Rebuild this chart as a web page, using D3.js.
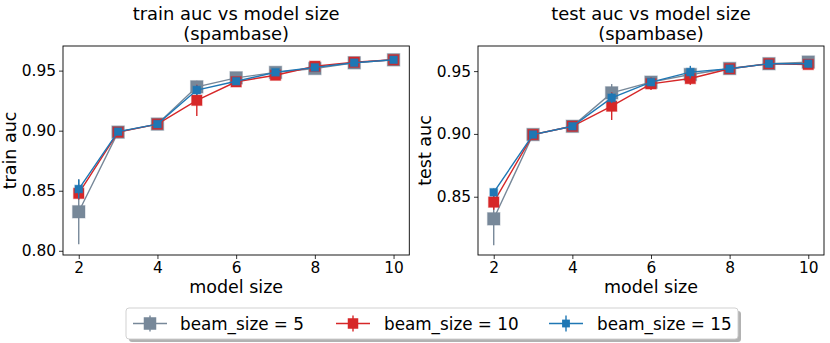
<!DOCTYPE html>
<html><head><meta charset="utf-8">
<script src="https://cdn.jsdelivr.net/npm/d3@7/dist/d3.min.js"></script>
<style>body{margin:0;background:#fff}svg{display:block;font-family:"DejaVu Sans",sans-serif}</style>
</head><body>
<svg id="c" width="830" height="343"></svg>
<script>
const modelSizes = [2,3,4,5,6,7,8,9,10];
const seriesNames = ["beam_size = 5","beam_size = 10","beam_size = 15"];
const seriesColors = ["#778899","#d62728","#1f77b4"];
const markerSizes = [12.5,10.5,7.8];
// train auc
const train5  = [0.8325,0.8988,0.9055,0.9365,0.9440,0.9485,0.9518,0.9565,0.9590];
const train10 = [0.8478,0.8988,0.9055,0.9253,0.9407,0.9462,0.9536,0.9570,0.9590];
const train15 = [0.8514,0.8992,0.9055,0.9338,0.9412,0.9486,0.9527,0.9566,0.9590];
const trainErr5  = [0.027,0.001,0.001,0.005,0.002,0.002,0.001,0.001,0.001];
const trainErr10 = [0.005,0.001,0.001,0.013,0.003,0.002,0.002,0.001,0.001];
const trainErr15 = [0.008,0.001,0.001,0.004,0.002,0.002,0.001,0.001,0.001];
// test auc
const test5  = [0.8324,0.8995,0.9061,0.9327,0.9412,0.9473,0.9521,0.9559,0.9572];
const test10 = [0.8457,0.8995,0.9061,0.9221,0.9399,0.9441,0.9519,0.9559,0.9553];
const test15 = [0.8535,0.8995,0.9061,0.9287,0.9412,0.9492,0.9519,0.9559,0.9559];
const testErr5  = [0.021,0.001,0.001,0.007,0.004,0.003,0.003,0.004,0.004];
const testErr10 = [0.006,0.001,0.001,0.011,0.005,0.005,0.004,0.003,0.003];
const testErr15 = [0.003,0.001,0.001,0.004,0.003,0.005,0.003,0.003,0.003];
const xTicks = [2,4,6,8,10];
const yTicks = [0.80,0.85,0.90,0.95];

const svg = d3.select("#c");
const panels = [
  {title:["train auc vs model size","(spambase)"], ylabel:"train auc", left:63, right:409.3, top:46, bottom:255,
   yDomain:[0.7965,0.9705], vals:[train5,train10,train15], errs:[trainErr5,trainErr10,trainErr15]},
  {title:["test auc vs model size","(spambase)"], ylabel:"test auc", left:478, right:824, top:46, bottom:255,
   yDomain:[0.8036,0.9700], vals:[test5,test10,test15], errs:[testErr5,testErr10,testErr15]}
];

panels.forEach(p=>{
  const x = d3.scaleLinear().domain([1.6,10.4]).range([p.left,p.right]);
  const y = d3.scaleLinear().domain(p.yDomain).range([p.bottom,p.top]);
  const g = svg.append("g");
  const clipId = "clip"+p.left;
  svg.append("clipPath").attr("id",clipId).append("rect")
    .attr("x",p.left).attr("y",p.top).attr("width",p.right-p.left).attr("height",p.bottom-p.top);
  const plot = g.append("g").attr("clip-path",`url(#${clipId})`);
  p.vals.forEach((vals,si)=>{
    const col = seriesColors[si];
    const sg = plot.append("g");
    sg.selectAll("line.err").data(modelSizes).join("line")
      .attr("x1",d=>x(d)).attr("x2",d=>x(d))
      .attr("y1",(d,i)=>y(vals[i]-p.errs[si][i])).attr("y2",(d,i)=>y(vals[i]+p.errs[si][i]))
      .attr("stroke",col).attr("stroke-width",1.4);
    sg.append("path").datum(modelSizes)
      .attr("d",d3.line().x(d=>x(d)).y((d,i)=>y(vals[i])))
      .attr("fill","none").attr("stroke",col).attr("stroke-width",1.4);
    const s = markerSizes[si];
    sg.selectAll("rect.m").data(modelSizes).join("rect")
      .attr("x",d=>x(d)-s/2).attr("y",(d,i)=>y(vals[i])-s/2)
      .attr("width",s).attr("height",s).attr("fill",col)
      .attr("stroke",col).attr("stroke-opacity",0.35).attr("stroke-width",1.2);
  });
  // axes
  const yt = yTicks.filter(v=>v>=p.yDomain[0] && v<=p.yDomain[1]);
  const xa = g.append("g").attr("transform",`translate(0,${p.bottom})`)
    .call(d3.axisBottom(x).tickValues(xTicks).tickFormat(d3.format("d")).tickSize(4).tickPadding(3));
  const ya = g.append("g").attr("transform",`translate(${p.left},0)`)
    .call(d3.axisLeft(y).tickValues(yt).tickFormat(d3.format(".2f")).tickSize(4).tickPadding(3));
  [xa,ya].forEach(a=>{
    a.select(".domain").remove();
    a.attr("font-size",15.4).attr("font-family","DejaVu Sans");
    a.selectAll("text").attr("fill","#000");
    a.selectAll("line").attr("stroke","#000").attr("stroke-width",0.8);
  });
  g.append("rect").attr("x",p.left).attr("y",p.top).attr("width",p.right-p.left).attr("height",p.bottom-p.top)
    .attr("fill","none").attr("stroke","#000").attr("stroke-width",0.9);
  const cx = (p.left+p.right)/2;
  g.append("text").attr("x",cx).attr("y",20).attr("text-anchor","middle").attr("font-size",17.9).text(p.title[0]);
  g.append("text").attr("x",cx).attr("y",40).attr("text-anchor","middle").attr("font-size",17.9).text(p.title[1]);
  g.append("text").attr("x",cx).attr("y",293).attr("text-anchor","middle").attr("font-size",17.5).text("model size");
  const cy = (p.top+p.bottom)/2;
  g.append("text").attr("transform",`translate(${p.left-47},${cy}) rotate(-90)`).attr("text-anchor","middle")
    .attr("font-size",17.5).text(p.ylabel);
});

// legend
const L = {x:126, y:308, w:612, h:31};
svg.append("rect").attr("x",L.x+3).attr("y",L.y+3).attr("width",L.w).attr("height",L.h).attr("rx",3)
  .attr("fill","#000").attr("fill-opacity",0.3);
svg.append("rect").attr("x",L.x).attr("y",L.y).attr("width",L.w).attr("height",L.h).attr("rx",3)
  .attr("fill","#fff").attr("stroke","#ccc").attr("stroke-width",0.9);
const handleX = [150,353,566];
const textX = [180,384,597];
seriesNames.forEach((n,i)=>{
  const cy = L.y+L.h/2;
  const col = seriesColors[i];
  const lg = svg.append("g");
  lg.append("line").attr("x1",handleX[i]-17).attr("x2",handleX[i]+17).attr("y1",cy).attr("y2",cy)
    .attr("stroke",col).attr("stroke-width",1.4);
  lg.append("line").attr("x1",handleX[i]).attr("x2",handleX[i]).attr("y1",cy-8).attr("y2",cy+8)
    .attr("stroke",col).attr("stroke-width",1.4);
  const s = markerSizes[i];
  lg.append("rect").attr("x",handleX[i]-s/2).attr("y",cy-s/2).attr("width",s).attr("height",s).attr("fill",col);
  lg.append("text").attr("x",textX[i]).attr("y",cy+6).attr("font-size",16.8).text(n);
});
</script>
</body></html>
